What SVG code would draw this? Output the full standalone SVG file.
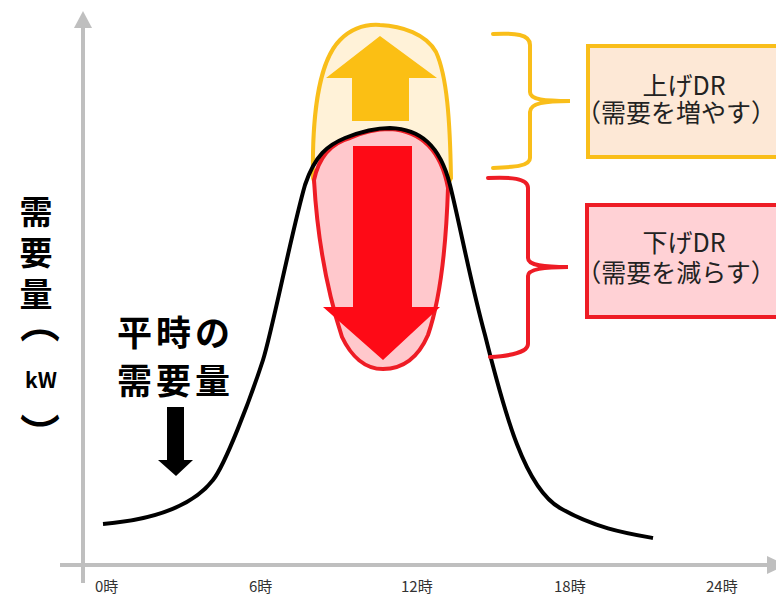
<svg xmlns="http://www.w3.org/2000/svg" width="776" height="596" viewBox="0 0 776 596">
<style>
.ax{stroke:#bfbfbf;stroke-width:4;fill:none}
.axh{fill:#bfbfbf}
.tick{font-family:"Noto Sans CJK JP","Noto Sans",sans-serif;font-size:15px;fill:#333}
.lbl{font-family:"Noto Sans CJK JP","Noto Sans",sans-serif;font-weight:bold;fill:#000}
.box{font-family:"Noto Sans CJK JP","Noto Sans",sans-serif;font-size:25px;fill:#222;text-anchor:middle}
</style>
<rect width="776" height="596" fill="#fff"/>
<g id="axes">
<line class="ax" x1="83" y1="26" x2="83" y2="583"/>
<polygon class="axh" points="83,11 74,28 92,28"/>
<line class="ax" x1="60" y1="565" x2="768" y2="565"/>
<polygon class="axh" points="786,565 767,556 767,574"/>
</g>
<g id="ticks">
<text class="tick" x="95" y="592">0時</text>
<text class="tick" x="249" y="592">6時</text>
<text class="tick" x="401" y="592">12時</text>
<text class="tick" x="554" y="592">18時</text>
<text class="tick" x="706" y="592">24時</text>
</g>
<g id="ylabel" class="lbl">
<text x="36" y="195" font-size="33" writing-mode="tb" letter-spacing="8" text-anchor="start">需要量</text>
<text x="40" y="338" font-size="40" text-anchor="middle">︵</text>
<text x="41" y="388" font-size="21" text-anchor="middle">kW</text>
<text x="40" y="448" font-size="40" text-anchor="middle">︶</text>
</g>
<g id="up-blob">
<path d="M 313 178 C 312 120, 318 62, 340 40 C 352 28, 366 24, 380 25 C 402 26, 426 34, 436 52 C 447 76, 450 120, 451 178 L 440 200 L 320 200 Z" fill="#fff2d8" stroke="#f9be1a" stroke-width="4"/>
<polygon points="380,36 437,78 409,78 409,121 352,121 352,78 326,78" fill="#fbbf14"/>
</g>
<g id="down-blob">
<path d="M 314 180 C 320 152, 335 142, 350 138 C 365 131, 378 129, 390 129 C 420 131, 441 150, 448 188 C 446 250, 440 300, 428 335 C 418 358, 402 369, 383 369 C 365 369, 351 356, 342 337 C 330 300, 318 250, 314 180 Z" fill="#ffc8cc" stroke="#ee1c25" stroke-width="4"/>
<polygon points="353,146 412,146 412,307 440,307 383,360 323,307 353,307" fill="#fe0a16"/>
</g>
<g id="connectors" fill="none" stroke-width="4" stroke-linecap="round">
<path id="demand-curve" d="M 103 524 C 150 520, 192 507, 213 480 C 225 465, 250 400, 263 360 C 272 332, 292 230, 305 185 C 315 155, 328 145, 345 138 C 360 132, 375 128, 390 128 C 420 129, 440 145, 450 185 C 460 225, 470 280, 485 335 C 505 415, 525 488, 560 508 C 595 528, 625 533, 653 538" stroke="#000" stroke-linecap="butt"/>
<path id="up-brace" d="M 493 34 C 515 33, 530 34, 530 45 L 530 92 C 530 100, 545 101, 570 101 C 545 101, 530 103, 530 112 L 530 158 C 530 166, 515 167, 493 168" stroke="#f9be1a"/>
<path id="down-brace" d="M 488 178 C 510 177, 528 178, 528 188 L 528 258 C 528 266, 545 267, 568 267 C 545 267, 528 269, 528 276 L 528 344 C 528 352, 510 356, 490 357" stroke="#ee1c25"/>
<polygon id="normal-arrow" points="167,407 184,407 184,460 193,460 176,476 158,460 167,460" fill="#000" stroke="none"/>
</g>
<g id="normal-label" class="lbl" font-size="35" letter-spacing="4">
<text x="117" y="346">平時の</text>
<text x="117" y="394">需要量</text>
</g>
<g id="up-box">
<rect x="588" y="46" width="200" height="111" fill="#fde8d6" stroke="#f9be1a" stroke-width="4"/>
<text class="box"><tspan x="684" y="95">上げDR</tspan><tspan x="676" y="122">（需要を増やす）</tspan></text>
</g>
<g id="down-box">
<rect x="587" y="205" width="200" height="112" fill="#ffd1d5" stroke="#ee1c25" stroke-width="4"/>
<text class="box"><tspan x="684" y="252">下げDR</tspan><tspan x="676" y="282">（需要を減らす）</tspan></text>
</g>
</svg>
